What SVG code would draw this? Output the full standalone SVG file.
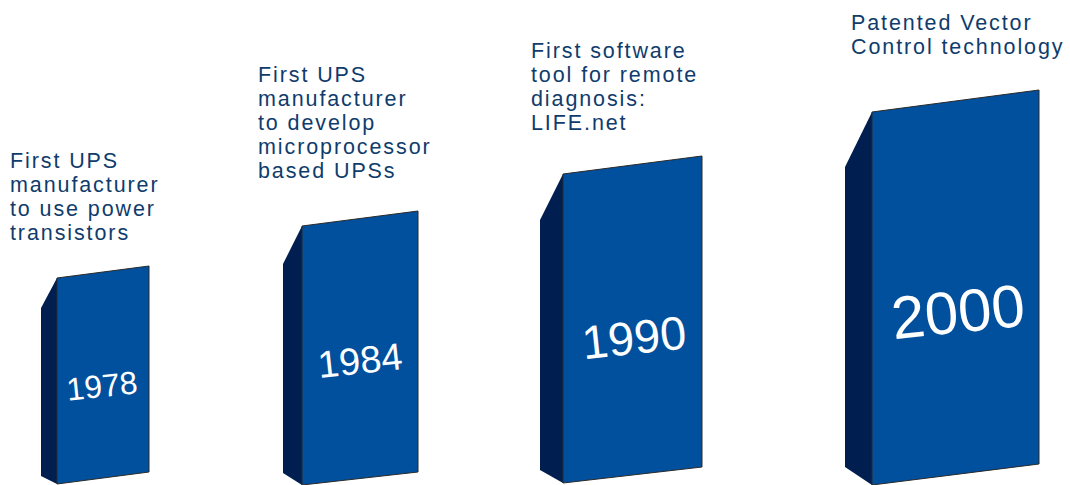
<svg xmlns="http://www.w3.org/2000/svg" width="1070" height="485" viewBox="0 0 1070 485">
  <style>
    .front { fill: #00509e; stroke: #2a2a2a; stroke-width: 1; stroke-linejoin: miter; }
    .side { fill: #001e50; }
    .year { fill: #ffffff; font-family: "Liberation Sans", Arial, sans-serif; text-anchor: middle; }
    .label { fill: #0f3c6c; font-family: "Liberation Sans", Arial, sans-serif; font-size: 21.5px; letter-spacing: 1.9px; }
  </style>
  <rect width="1070" height="485" fill="#ffffff"/>

  <!-- 1978 -->
  <g id="bar-1978">
    <polygon class="side" points="41,308 57,278 57,484 41,476"/>
    <polygon class="front" points="57,278 149,266 149,472 57,484"/>
    <text class="year" x="102" y="397" font-size="32" transform="rotate(-6 102 386)">1978</text>
  </g>
  <g id="label-1978">
    <text class="label" x="10" y="168">First UPS</text>
    <text class="label" x="10" y="192">manufacturer</text>
    <text class="label" x="10" y="216">to use power</text>
    <text class="label" x="10" y="240">transistors</text>
  </g>

  <!-- 1984 -->
  <g id="bar-1984">
    <polygon class="side" points="283,264 302,226 302,485 283,473"/>
    <polygon class="front" points="302,226 418,211 418,472 302,485"/>
    <text class="year" x="360" y="373.6" font-size="38" transform="rotate(-6 360 360)">1984</text>
  </g>
  <g id="label-1984">
    <text class="label" x="258" y="82">First UPS</text>
    <text class="label" x="258" y="106">manufacturer</text>
    <text class="label" x="258" y="130">to develop</text>
    <text class="label" x="258" y="154">microprocessor</text>
    <text class="label" x="258" y="178">based UPSs</text>
  </g>

  <!-- 1990 -->
  <g id="bar-1990">
    <polygon class="side" points="540,220 563,174 563,483 540,470"/>
    <polygon class="front" points="563,174 702,156 702,467 563,483"/>
    <text class="year" x="634" y="353.8" font-size="47" transform="rotate(-6 634 337)">1990</text>
  </g>
  <g id="label-1990">
    <text class="label" x="531" y="58">First software</text>
    <text class="label" x="531" y="82">tool for remote</text>
    <text class="label" x="531" y="106">diagnosis:</text>
    <text class="label" x="531" y="130">LIFE.net</text>
  </g>

  <!-- 2000 -->
  <g id="bar-2000">
    <polygon class="side" points="845,167 872,112 872,485 845,467"/>
    <polygon class="front" points="872,112 1039,90 1039,464 872,485"/>
    <text class="year" x="958" y="332.5" font-size="60" transform="rotate(-6 958 311)">2000</text>
  </g>
  <g id="label-2000">
    <text class="label" x="851" y="30">Patented Vector</text>
    <text class="label" x="851" y="54">Control technology</text>
  </g>

  <g id="connectors"/>
</svg>
